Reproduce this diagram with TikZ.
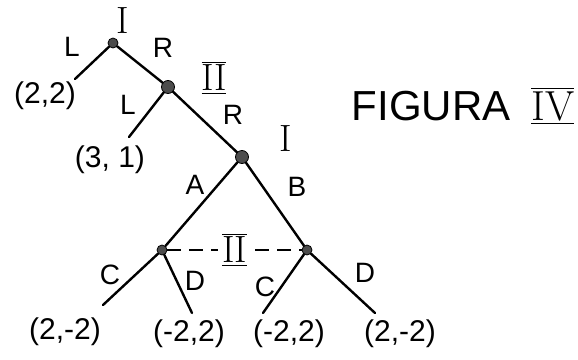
\documentclass[tikz,border=0pt]{standalone}
\usepackage{fontspec}
\setsansfont{Liberation Sans}
\begin{document}
\begin{tikzpicture}[
  x=0.5pt, y=-0.5pt,
  dec/.style={circle, fill=black!70, draw=black, inner sep=0pt, minimum size=5pt},
  big/.style={minimum size=6.5pt},
  br/.style={line width=1.2pt, line cap=round},
  act/.style={font=\sffamily\fontsize{14}{16}\selectfont},
  pay/.style={font=\sffamily\fontsize{15}{17}\selectfont},
  who/.style={font=\fontsize{19}{21}\selectfont}
]
\useasboundingbox (0,0) rectangle (578,359);

% decision nodes
\node[dec] (r) at (113,43) {};
\node[dec, big] (p2) at (168,87) {};
\node[dec, big] (p1) at (242,157) {};
\node[dec] (qa) at (162,250) {};
\node[dec] (qb) at (307,250) {};

% end points
\coordinate (a1) at (75,79);
\coordinate (a2) at (129,137);
\coordinate (b1) at (103,305);
\coordinate (b2) at (192,313);
\coordinate (b3) at (263,313);
\coordinate (b4) at (375,313);

% branches
\draw[br] (r) -- (a1);
\draw[br] (r) -- (p2);
\draw[br] (p2) -- (a2);
\draw[br] (p2) -- (p1);
\draw[br] (p1) -- (qa);
\draw[br] (p1) -- (qb);
\draw[br] (qa) -- (b1);
\draw[br] (qa) -- (b2);
\draw[br] (qb) -- (b3);
\draw[br] (qb) -- (b4);

% information set
\draw[line width=1pt, dash pattern=on 7pt off 4pt] (qa) -- (qb)
  node[midway, fill=white, inner sep=2pt, who] (ii) {$\overline{\underline{\mathrm{II}}}$};

% players
\node[who] (w1) at (123,21) {I};
\node[who] (w2) at (214,78) {$\overline{\underline{\mathrm{II}}}$};
\node[who] (w3) at (286,139) {I};

% moves
\node[act] (m1) at (72,47) {L};
\node[act] (m2) at (163,48) {R};
\node[act] (m3) at (128,105) {L};
\node[act] (m4) at (233,115) {R};
\node[act] (m5) at (195,185) {A};
\node[act] (m6) at (297,187) {B};
\node[act] (m7) at (110,275) {C};
\node[act] (m8) at (195,281) {D};
\node[act] (m9) at (265,287) {C};
\node[act] (m10) at (365,273) {D};

% payoffs
\node[pay] (u1) at (45,96) {(2,2)};
\node[pay] (u2) at (110,160) {(3, 1)};
\node[pay] (u3) at (65,332) {(2,-2)};
\node[pay] (u4) at (189,334) {(-2,2)};
\node[pay] (u5) at (289,334) {(-2,2)};
\node[pay] (u6) at (400,334) {(2,-2)};

% title
\node[font=\sffamily\fontsize{21}{25}\selectfont] (fig) at (463,106)
  {FIGURA\enspace$\overline{\underline{\mathrm{IV}}}$};
\end{tikzpicture}
\end{document}
